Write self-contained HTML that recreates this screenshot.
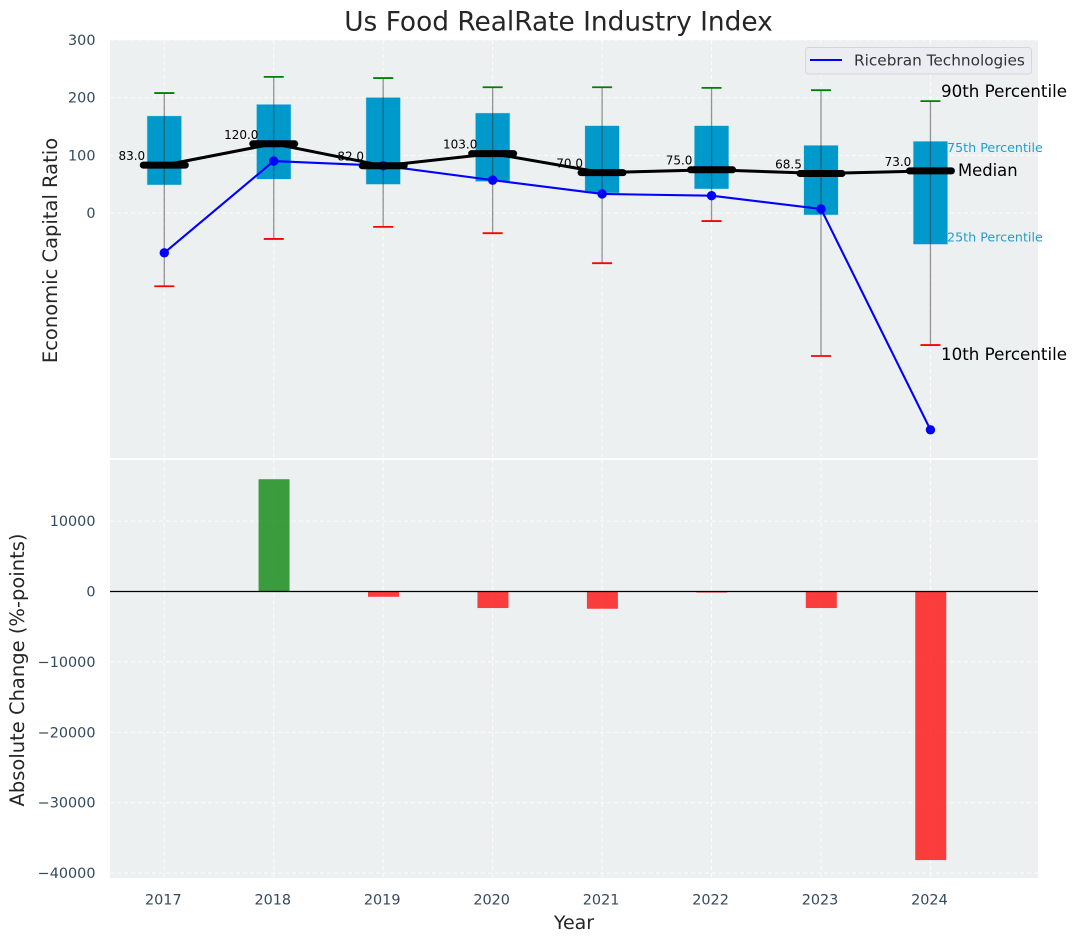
<!DOCTYPE html>
<html>
<head>
<meta charset="utf-8">
<title>Us Food RealRate Industry Index</title>
<style>
html,body{margin:0;padding:0;background:#fff;}
svg{display:block;font-family:"DejaVu Sans","Liberation Sans",sans-serif;}
</style>
</head>
<body>
<svg id="chart" width="1076" height="942" viewBox="0 0 1076 942" xmlns="http://www.w3.org/2000/svg">
  <rect x="110" y="40" width="928" height="418" fill="#ecf0f1"/>
  <rect x="110" y="460" width="928" height="418" fill="#ecf0f1"/>
  <g id="gridLayer"></g>
  <g id="marksLayer"></g>
  <text x="558.5" y="30.500" text-anchor="middle" font-size="26.400" fill="#262626">Us Food RealRate Industry Index</text>
  <text transform="translate(57,250.500) rotate(-90)" text-anchor="middle" font-size="19.500" fill="#262626">Economic Capital Ratio</text>
  <text transform="translate(24,670) rotate(-90)" text-anchor="middle" font-size="19.500" fill="#262626">Absolute Change (%-points)</text>
  <text x="574" y="929" text-anchor="middle" font-size="19" fill="#262626">Year</text>
  <g>
    <rect x="805.500" y="47.500" width="226" height="26.500" rx="3" fill="#ecedf2" stroke="#d5d6da"/>
    <line x1="810" y1="60" x2="842" y2="60" stroke="#0000ff" stroke-width="2"/>
    <text x="854" y="65.500" font-size="15.300" fill="#333333">Ricebran Technologies</text>
  </g>
  <text x="941" y="97" font-size="16.700" fill="#000000">90th Percentile</text>
  <text x="947" y="152" font-size="12.700" fill="#1f9fcf">75th Percentile</text>
  <text x="958" y="176" font-size="16.400" fill="#000000">Median</text>
  <text x="947" y="241.500" font-size="12.700" fill="#1f9fcf">25th Percentile</text>
  <text x="941" y="360" font-size="16.700" fill="#000000">10th Percentile</text>
</svg>
<script>
const years = [2017, 2018, 2019, 2020, 2021, 2022, 2023, 2024];
const p90 = [208, 236, 234, 218, 218, 217, 213, 194];
const p75 = [168, 188, 200, 173, 151, 151, 117, 124];
const medians = [83, 120, 82, 103, 70, 75, 68.5, 73];
const p25 = [49, 59, 50, 55, 35, 42, -3, -54];
const p10 = [-127, -45, -24, -35, -87, -14, -248, -229];
const ricebran = [-69, 90, 82, 57, 33, 30, 7, -376];
const changes = [0, 15950, -750, -2350, -2450, -150, -2350, -38150];
const topTicks = [0, 100, 200, 300];
const bottomTicks = [10000, 0, -10000, -20000, -30000, -40000];

const NS = 'http://www.w3.org/2000/svg';
const grid = document.getElementById('gridLayer');
const marks = document.getElementById('marksLayer');

function xScale(year) { return 164.3 + (year - 2017) * 109.45; }
function yTop(v) { return 213 - v * 0.5767; }
function yBottom(v) { return 591.5 - v * 0.00704; }

function make(parent, tag, props, text) {
  const el = document.createElementNS(NS, tag);
  Object.keys(props).forEach(function (k) { el.setAttribute(k, props[k]); });
  if (text !== undefined) el.textContent = text;
  parent.appendChild(el);
  return el;
}

// Gridlines and ticks
years.forEach(function (yr) {
  const x = xScale(yr);
  const a = make(grid, 'line', { x1: x, x2: x, y1: 40, y2: 458, stroke: '#ffffff', 'stroke-width': 1, 'stroke-dasharray': '4 3', opacity: 0.85 });
  
  
  const b = make(grid, 'line', { x1: x, x2: x, y1: 460, y2: 878, stroke: '#ffffff', 'stroke-width': 1, 'stroke-dasharray': '4 3', opacity: 0.85 });
  
  
  const t = make(grid, 'text', { x: x - 1, y: 904.5, 'text-anchor': 'middle', 'font-size': 14.4, fill: '#34495e' }, String(yr));
  
  
});

topTicks.forEach(function (v) {
  const y = yTop(v);
  const l = make(grid, 'line', { x1: 110, x2: 1038, y1: y, y2: y, stroke: '#ffffff', 'stroke-width': 1, 'stroke-dasharray': '4 3', opacity: 0.85 });
  
  
  const t = make(grid, 'text', { x: 95.5, y: y + 5, 'text-anchor': 'end', 'font-size': 14.4, fill: '#34495e' }, String(v));
  
  
});

bottomTicks.forEach(function (v) {
  const y = yBottom(v);
  const l = make(grid, 'line', { x1: 110, x2: 1038, y1: y, y2: y, stroke: '#ffffff', 'stroke-width': 1, 'stroke-dasharray': '4 3', opacity: 0.85 });
  
  
  const label = (v < 0 ? '\u2212' : '') + Math.abs(v);
  const t = make(grid, 'text', { x: 95.5, y: y + 5, 'text-anchor': 'end', 'font-size': 14.4, fill: '#34495e' }, label);
  
  
});

// Percentile boxes
years.forEach(function (yr, i) {
  const x = xScale(yr);
  const box = make(marks, 'rect', { x: x - 17, y: yTop(p75[i]), width: 34, height: yTop(p25[i]) - yTop(p75[i]), fill: '#0099cc', stroke: '#0099cc', 'stroke-opacity': 0.2 });
  
  
});

// Whiskers and caps
years.forEach(function (yr, i) {
  const x = xScale(yr);
  const w = make(marks, 'line', { x1: x, x2: x, y1: yTop(p90[i]), y2: yTop(p10[i]), stroke: '#333333', 'stroke-width': 1.3, opacity: 0.5 });
  
  
  const hi = make(marks, 'line', { x1: x - 10, x2: x + 10, y1: yTop(p90[i]), y2: yTop(p90[i]), stroke: '#008000', 'stroke-width': 1.8 });
  
  
  const lo = make(marks, 'line', { x1: x - 10, x2: x + 10, y1: yTop(p10[i]), y2: yTop(p10[i]), stroke: '#ff0000', 'stroke-width': 1.8 });
  
  
});

// Ricebran series
const bluePts = years.map(function (yr, i) { return xScale(yr) + ',' + yTop(ricebran[i]); }).join(' ');
const blueLine = make(marks, 'polyline', { points: bluePts, fill: 'none', stroke: '#0000ff', 'stroke-width': 2.1 });


years.forEach(function (yr, i) {
  const c = make(marks, 'circle', { cx: xScale(yr), cy: yTop(ricebran[i]), r: 4.7, fill: '#0000ff' });
  
  
});

// Median line, bars and labels
const medPts = years.map(function (yr, i) { return xScale(yr) + ',' + yTop(medians[i]); }).join(' ');
const medLine = make(marks, 'polyline', { points: medPts, fill: 'none', stroke: '#000000', 'stroke-width': 3 });


years.forEach(function (yr, i) {
  const x = xScale(yr);
  const y = yTop(medians[i]);
  const m = make(marks, 'line', { x1: x - 21, x2: x + 21, y1: y, y2: y, stroke: '#000000', 'stroke-width': 7, 'stroke-linecap': 'round' });
  
  
  const t = make(marks, 'text', { x: x - 32.5, y: y - 5, 'text-anchor': 'middle', 'font-size': 12, fill: '#000000' }, medians[i].toFixed(1));
  
  
});

// Absolute change bars
years.forEach(function (yr, i) {
  const x = xScale(yr) + 0.3;
  const v = changes[i];
  const top = Math.min(yBottom(v), yBottom(0));
  const h = Math.abs(yBottom(v) - yBottom(0));
  const bar = make(marks, 'rect', { x: x - 15.5, y: top, width: 31, height: h, fill: v >= 0 ? '#008000' : '#ff0000', opacity: 0.75 });
  
  
});

const zero = make(marks, 'line', { x1: 110, x2: 1038, y1: yBottom(0), y2: yBottom(0), stroke: '#000000', 'stroke-width': 1.2 });


</script>
</body>
</html>
